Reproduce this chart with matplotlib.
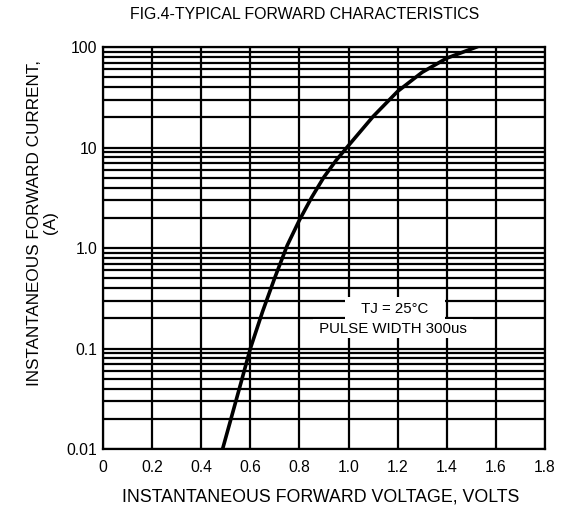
import numpy as np
import matplotlib.pyplot as plt
from matplotlib.ticker import FixedLocator, LogLocator, NullFormatter

plt.rcParams['font.family'] = ['Liberation Sans', 'DejaVu Sans']

# forward curve
volts = [0.487, 0.52, 0.56, 0.60, 0.65, 0.70, 0.75, 0.80, 0.85, 0.90, 0.95, 1.00,
         1.10, 1.20, 1.30, 1.40, 1.52]
amps = [0.01, 0.0195, 0.044, 0.1, 0.234, 0.51, 1.06, 1.9, 3.2, 5.1, 7.5, 10.5,
        20.4, 36.3, 56.2, 77.6, 100.0]

x_ticks = [0, 0.2, 0.4, 0.6, 0.8, 1.0, 1.2, 1.4, 1.6, 1.8]
x_labels = ["0", "0.2", "0.4", "0.6", "0.8", "1.0", "1.2", "1.4", "1.6", "1.8"]
y_ticks = [0.01, 0.1, 1, 10, 100]
y_labels = ["0.01", "0.1", "1.0", "10", "100"]

fig = plt.figure(figsize=(5.65, 5.12), dpi=100)
ax = fig.add_axes([0.1823, 0.123, 0.7823, 0.785])

ax.plot(volts, amps, color="black", lw=2.6, zorder=3, solid_joinstyle="round")
ax.set_yscale("log")
ax.set_xlim(0, 1.8)
ax.set_ylim(0.01, 100)

ax.xaxis.set_major_locator(FixedLocator(x_ticks))
ax.set_xticklabels(x_labels)
ax.yaxis.set_major_locator(FixedLocator(y_ticks))
ax.set_yticklabels(y_labels)
ax.yaxis.set_minor_locator(LogLocator(base=10, subs=np.arange(2, 10)))
ax.yaxis.set_minor_formatter(NullFormatter())

ax.grid(True, which="both", color="black", lw=1.6)
ax.tick_params(which="both", length=0, labelsize=11.3)
ax.tick_params(axis="x", pad=8)
ax.tick_params(axis="y", pad=4)
for s in ax.spines.values():
    s.set_linewidth(1.6)

# white boxes that break the grid behind the condition text
ax.text(1.19, 0.25, "   TJ = 25°C   ", ha="center", va="center", fontsize=10.8,
        bbox=dict(facecolor="white", edgecolor="none", pad=3), zorder=4)
ax.text(1.18, 0.158, " PULSE WIDTH 300us ", ha="center", va="center", fontsize=10.8,
        bbox=dict(facecolor="white", edgecolor="none", pad=1.5), zorder=4)

fig.text(0.54, 0.971, "FIG.4-TYPICAL FORWARD CHARACTERISTICS", ha="center", va="center", fontsize=11.4)
fig.text(0.567, 0.03, "INSTANTANEOUS FORWARD VOLTAGE, VOLTS", ha="center", va="center", fontsize=12.8)
fig.text(0.075, 0.565, "INSTANTANEOUS FORWARD CURRENT,\n(A)", ha="center", va="center",
         rotation=90, fontsize=12.3, linespacing=1.1)

fig.savefig("out.png", dpi=100)
